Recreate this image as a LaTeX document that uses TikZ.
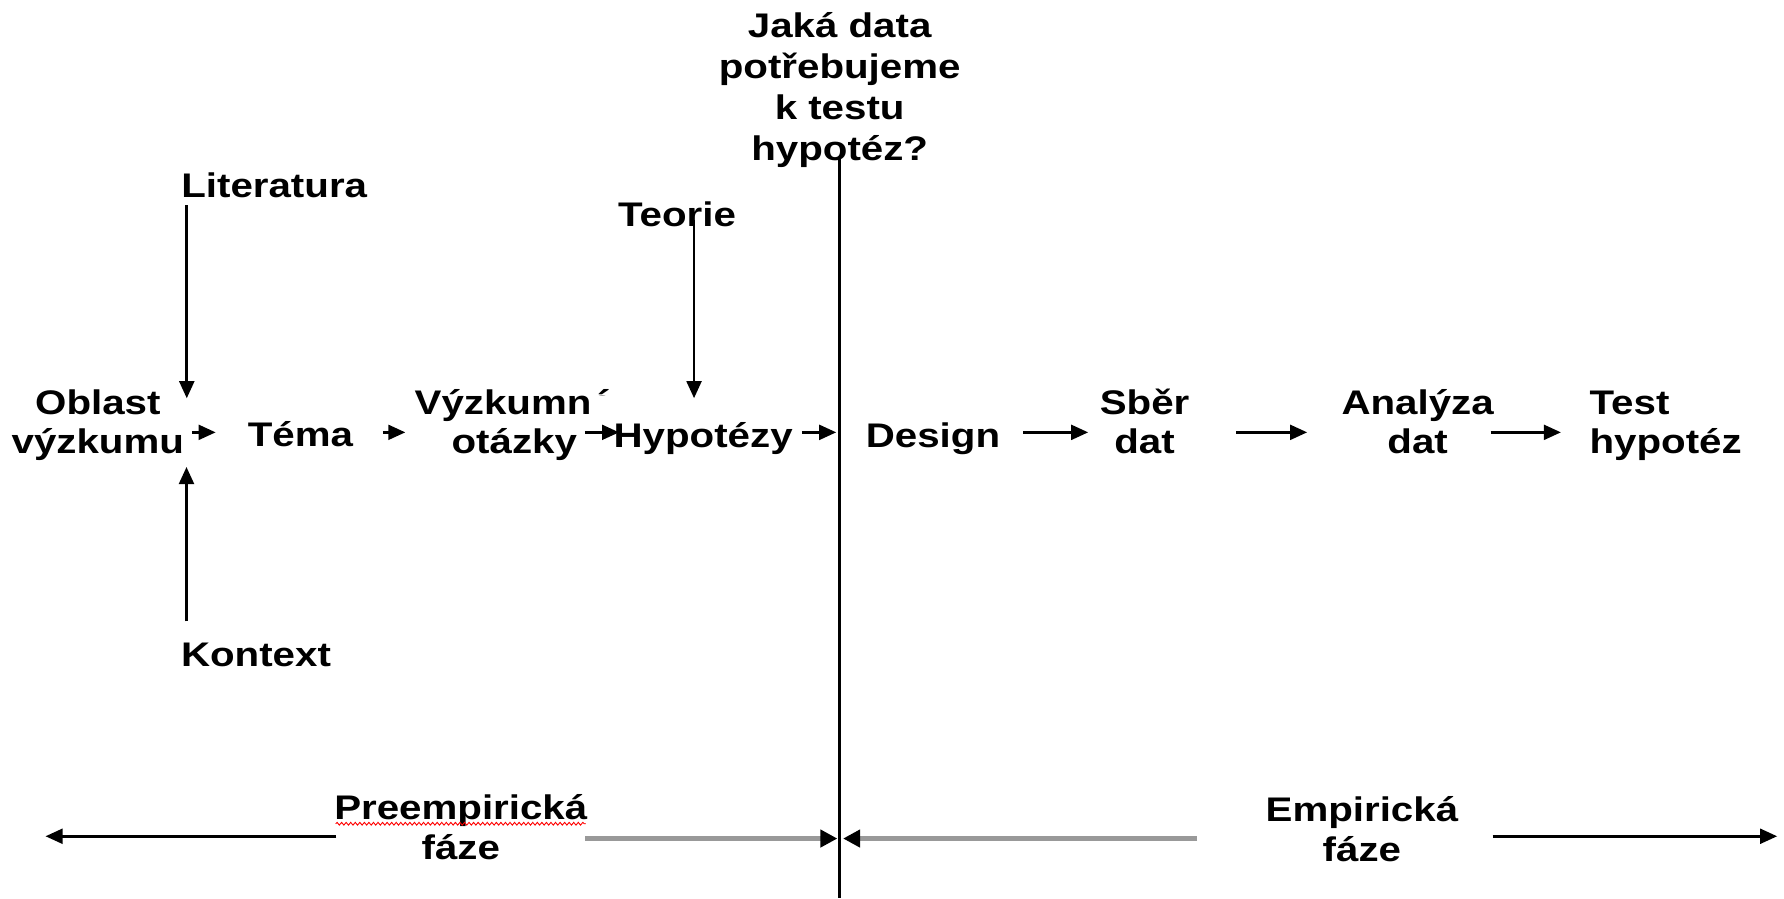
\documentclass[tikz,border=0pt]{standalone}
\usepackage{fontspec}
\setmainfont{Liberation Sans}[FakeStretch=1.18]
\usetikzlibrary{arrows.meta,calc,decorations.pathmorphing}
\begin{document}
\begin{tikzpicture}[x=1pt,y=-1pt,
  lbl/.style={font=\bfseries\fontsize{30}{35}\selectfont, align=center, inner sep=0pt, anchor=base},
  arr/.style={line width=2.4pt, -{Triangle[length=15pt,width=13pt]}},
  garr/.style={line width=4.5pt, draw=gray!80, -{Triangle[length=15pt,width=15pt,color=black]}}]
\fill[white] (0,0) rectangle (1568,789.3);
\useasboundingbox (0,0) rectangle (1568,789.3);
\coordinate (row) at (0,380);
\coordinate (bot) at (0,735);
\coordinate (bot2) at (0,737);
\coordinate (vtop) at (738,140);
\coordinate (vbot) at (738,789.3);
\coordinate (lend) at (40,735);
\coordinate (rend) at (1562,735);
% question (base anchor = baseline of last line)
\node[lbl, font=\bfseries\fontsize{30}{36}\selectfont] (q) at (738,141) {Jaká data\\potřebujeme\\k testu\\hypotéz?};
\draw[line width=2.2pt] (vtop) -- (vbot);
% nodes
\node[lbl] (lit) at (241,174) {Literatura};
\node[lbl] (teo) at (595,199) {Teorie};
\node[lbl] (kon) at (225,586) {Kontext};
\node[lbl] (obl) at (86,399) {Oblast\\výzkumu};
\node[lbl] (tema) at (264,392) {Téma};
\node[lbl] (vyzk) at (452,399) {Výzkumná\\otázky};
\node[lbl, fill=white, inner xsep=22pt, text height=45pt, text depth=12pt] (hyp) at (618,393) {Hypotézy};
\node[lbl] (design) at (820,393) {Design};
\node[lbl] (sber) at (1006,399) {Sběr\\dat};
\node[lbl] (anal) at (1246,399) {Analýza\\dat};
\node[lbl, align=left] (test) at (1464,399) {Test\\hypotéz};
\node[lbl] (pre) at (405,755) {Preempirická\\fáze};
\node[lbl] (emp) at (1197,757) {Empirická\\fáze};
% vertical arrows
\draw[arr] ($(lit.south west)+(5,6)$) -- ($(lit.south west |- obl.north)+(5,8)$);
\draw[arr] ($(kon.north west)+(5,-19)$) -- ($(kon.north west |- obl.south)+(5,5)$);
\draw[arr] ($(teo.south)+(15,-6)$) -- ($(teo.south |- row)+(15,-30)$);
% row arrows
\draw[arr] ($(obl.east|-row)+(7,0)$) -- ($(tema.west|-row)+(-28,0)$);
\draw[arr] ($(tema.east|-row)+(26,0)$) -- ($(vyzk.west|-row)+(-8,0)$);
\draw[arr] ($(hyp.west|-row)+(-3,0)$) -- ($(hyp.west|-row)+(27,0)$);
\draw[arr] ($(hyp.east|-row)+(-14,0)$) -- ($(vtop|-row)+(-3,0)$);
\draw[arr] ($(design.east|-row)+(20,0)$) -- ($(sber.west|-row)+(-10,0)$);
\draw[arr] ($(sber.east|-row)+(41,0)$) -- ($(anal.west|-row)+(-30,0)$);
\draw[arr] ($(anal.east|-row)+(-3,0)$) -- ($(test.west|-row)+(-25,0)$);
% phase arrows
\draw[arr] ($(pre.west|-bot)+(2,0)$) -- (lend);
\draw[garr] ($(pre.east|-bot2)+(-2,0)$) -- ($(vtop|-bot2)+(-2,0)$);
\draw[garr] ($(emp.west|-bot2)+(-60,0)$) -- ($(vtop|-bot2)+(3,0)$);
\draw[arr] ($(emp.east|-bot)+(30,0)$) -- (rend);
% spell-check squiggle
\draw[red, line width=0.8pt, decorate, decoration={snake, amplitude=1.2pt, segment length=4pt}]
  ($(pre.base)+(-110,-31)$) -- ($(pre.base)+(110,-31)$);
\end{tikzpicture}
\end{document}
